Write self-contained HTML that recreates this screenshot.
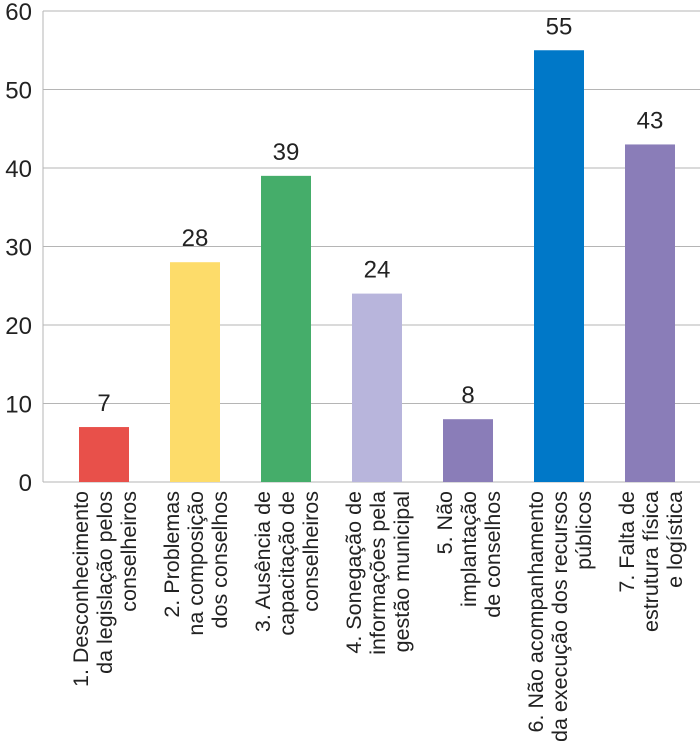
<!DOCTYPE html>
<html><head><meta charset="utf-8"><style>
html,body{margin:0;padding:0;background:#fff;}
svg{display:block;font-family:"Liberation Sans","DejaVu Sans",sans-serif;}
</style></head><body>
<svg id="chart" width="700" height="741" viewBox="0 0 700 741"></svg>
<script>
const categories = [
  ["1.  Desconhecimento","da legislação pelos","conselheiros"],
  ["2.  Problemas","na composição","dos conselhos"],
  ["3.  Ausência de","capacitação de","conselheiros"],
  ["4.  Sonegação de","informações pela","gestão municipal"],
  ["5.  Não","implantação","de conselhos"],
  ["6.  Não acompanhamento","da execução dos recursos","públicos"],
  ["7.  Falta de","estrutura física","e logística"]
];
const values = [7, 28, 39, 24, 8, 55, 43];
const colors = ["#e8504a","#fddc6a","#45ad6a","#b8b5dc","#8a7db8","#0078c8","#8a7db8"];
const yTicks = [0, 10, 20, 30, 40, 50, 60];

const NS = "http://www.w3.org/2000/svg";
const svg = document.getElementById("chart");
const x0 = 43, x1 = 700, yBase = 482, yTop = 11, yMax = 60;
const step = 91, firstCenter = 104, barW = 50;
const y = v => yBase - (v / yMax) * (yBase - yTop);
const xc = i => firstCenter + i * step;
function mk(tag, attrs) { const e = document.createElementNS(NS, tag); for (const k in attrs) e.setAttribute(k, attrs[k]); svg.appendChild(e); return e; }

yTicks.forEach(t => {
  const g = mk("line", {x1: x0, x2: x1, y1: y(t), y2: y(t), stroke: "#b5b5b5", "stroke-width": 1});
  
  
  const lb = mk("text", {x: 32, y: y(t) + 9, "text-anchor": "end", "font-size": 24, fill: "#222"});
  lb.textContent = t;
  
  
});
const ax = mk("line", {x1: x0, x2: x0, y1: yTop, y2: yBase, stroke: "#b5b5b5", "stroke-width": 1});



values.forEach((v, i) => {
  const r = mk("rect", {x: xc(i) - barW / 2, y: y(v), width: barW, height: yBase - y(v), fill: colors[i]});
  
  
  const t = mk("text", {x: xc(i), y: y(v) - 16, "text-anchor": "middle", "font-size": 24, fill: "#222"});
  t.textContent = v;
  
  
  categories[i].forEach((line, j) => {
    const lx = xc(i) - 24 + j * 24 + 8;
    const c = mk("text", {x: lx, y: 491, "text-anchor": "end", "font-size": 21.5, fill: "#222", transform: `rotate(-90 ${lx} 491)`});
    c.textContent = line;
    
    
  });
});
</script>
</body></html>
